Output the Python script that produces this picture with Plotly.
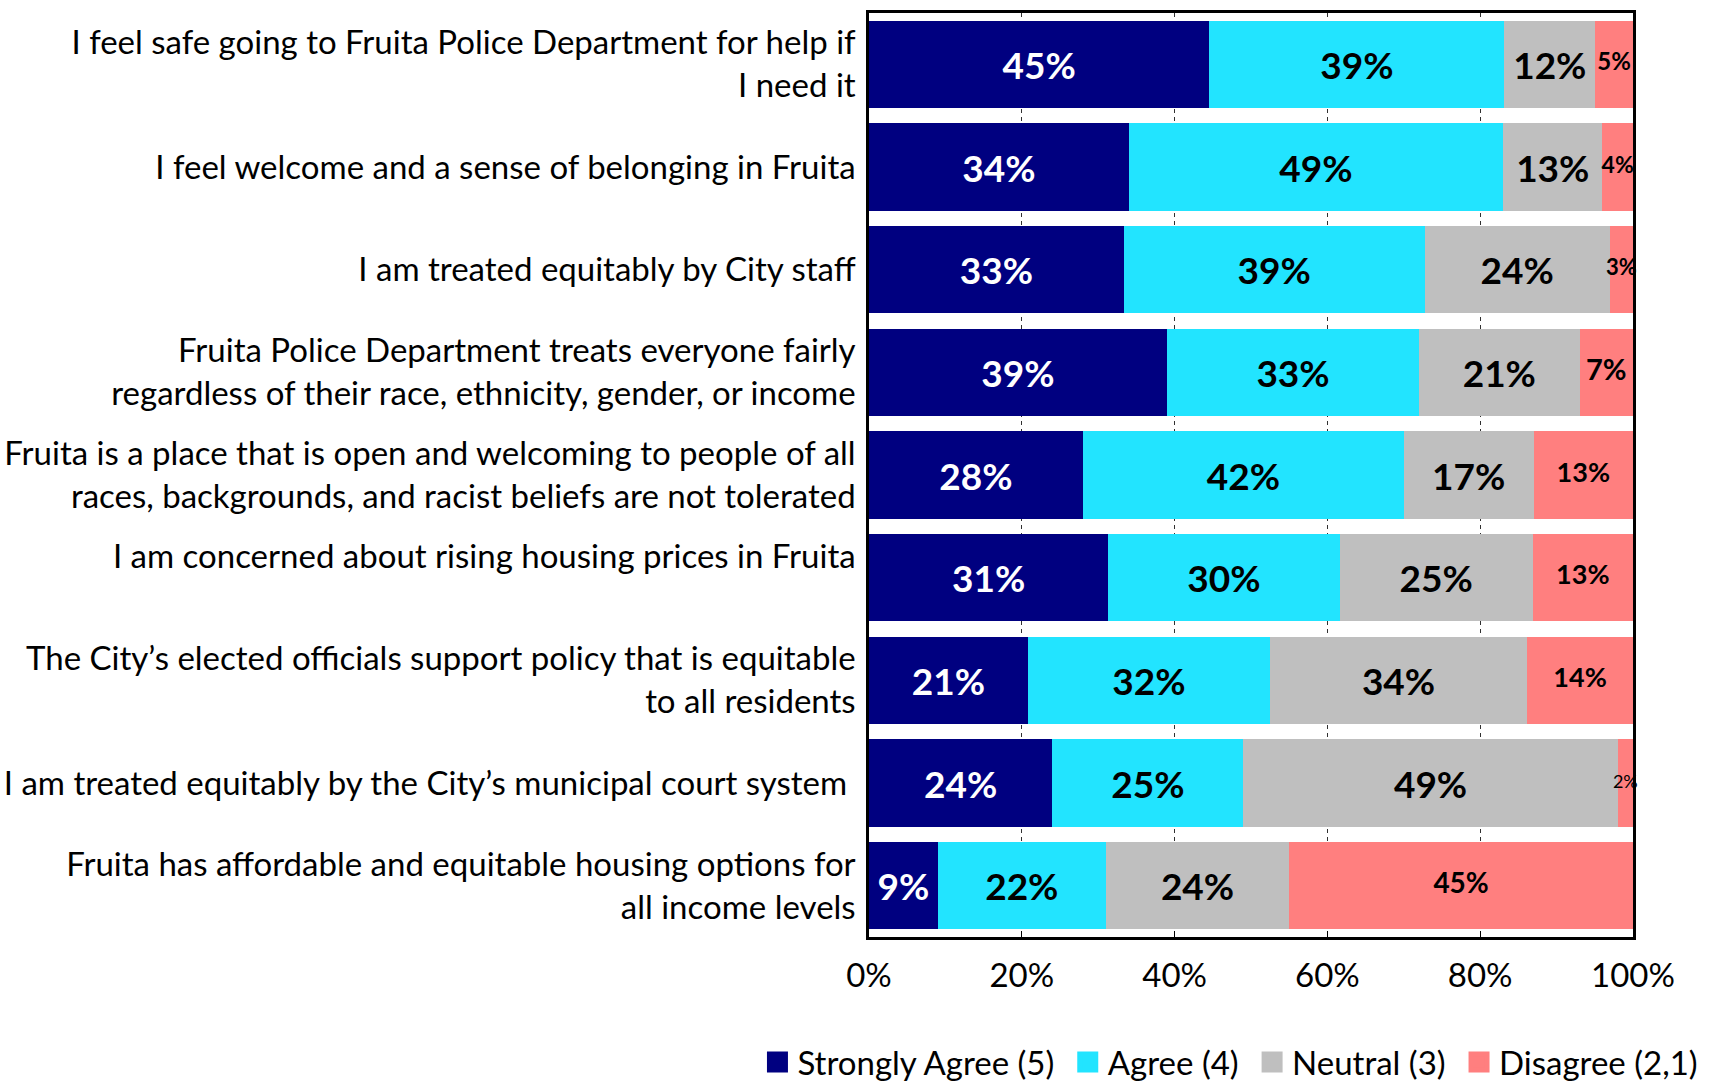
import plotly.graph_objects as go

categories = [
    "I feel safe going to Fruita Police Department for help if<br>I need it",
    "I feel welcome and a sense of belonging in Fruita",
    "I am treated equitably by City staff",
    "Fruita Police Department treats everyone fairly<br>regardless of their race, ethnicity, gender, or income",
    "Fruita is a place that is open and welcoming to people of all<br>races, backgrounds, and racist beliefs are not tolerated",
    "I am concerned about rising housing prices in Fruita<br>&nbsp;",
    "The City\u2019s elected officials support policy that is equitable<br>to all residents",
    "I am treated equitably by the City\u2019s municipal court system&nbsp;",
    "Fruita has affordable and equitable housing options for<br>all income levels",
]

series_names = ["Strongly Agree (5)", "Agree (4)", "Neutral (3)", "Disagree (2,1)"]
strongly_agree = [45, 34, 33, 39, 28, 31, 21, 24, 9]
agree = [39, 49, 39, 33, 42, 30, 32, 25, 22]
neutral = [12, 13, 24, 21, 17, 25, 34, 49, 24]
disagree = [5, 4, 3, 7, 13, 13, 14, 2, 45]

x_ticks = [0, 20, 40, 60, 80, 100]

colors = ["#000080", "#22E4FF", "#BFBFBF", "#FF7F7F"]
text_colors = ["white", "black", "black", "black"]
disagree_label_sizes = [24, 23, 22, 29, 27, 27, 27, 18, 28]
FONT = "Lato"

fig = go.Figure()
all_series = [strongly_agree, agree, neutral, disagree]
for i, (name, vals) in enumerate(zip(series_names, all_series)):
    is_last = i == len(all_series) - 1
    fig.add_trace(go.Bar(
        y=categories, x=vals, name=name, orientation="h",
        marker=dict(color=colors[i], line=dict(width=0)),
        text=None if is_last else [f"<b>{v}%</b>" for v in vals],
        textposition="none" if is_last else "inside",
        insidetextanchor="middle", textangle=0, constraintext="none",
        textfont=dict(family=FONT, size=37, color=text_colors[i]),
        showlegend=False, hoverinfo="skip",
    ))

# labels of the Disagree segments (centred on each normalised segment)
totals = [a + b + c + d for a, b, c, d in zip(*all_series)]
dis_mid = [
    (a + b + c + d / 2) / t * 100
    for a, b, c, d, t in zip(strongly_agree, agree, neutral, disagree, totals)
]
fig.add_trace(go.Scatter(
    x=dis_mid, y=categories, mode="text",
    text=[f"{v}%" if v <= 2 else f"<b>{v}%</b>" for v in disagree],
    textposition="middle center", cliponaxis=False,
    textfont=dict(family=FONT, size=disagree_label_sizes, color="black"),
    showlegend=False, hoverinfo="skip",
))

# legend entries
for i, name in enumerate(series_names):
    fig.add_trace(go.Scatter(
        x=[None], y=[None], mode="markers",
        name=name if i == len(series_names) - 1 else name + "&nbsp;",
        marker=dict(symbol="square", size=16, color=colors[i],
                    line=dict(color=colors[i], width=5)),
        showlegend=True,
    ))

fig.update_layout(
    width=1714, height=1083,
    margin=dict(l=869, r=81, t=13, b=146, autoexpand=False),
    barmode="stack", barnorm="percent", bargap=0.15,
    plot_bgcolor="white", paper_bgcolor="white",
    font=dict(family=FONT, size=33, color="black"),
    legend=dict(orientation="h", traceorder="normal",
                x=-0.146, xanchor="left", y=-0.1353, yanchor="middle",
                font=dict(family=FONT, size=33), itemwidth=30,
                bgcolor="rgba(0,0,0,0)"),
)
fig.update_xaxes(
    range=[0, 100], tickvals=x_ticks, ticktext=[f"{t}%" for t in x_ticks],
    showgrid=True, gridcolor="#303030", gridwidth=1, griddash="4px,4px",
    ticks="inside", ticklen=6, tickcolor="black", tickwidth=1,
    showline=True, linecolor="black", linewidth=2.5, mirror=True,
    zeroline=False, ticklabelstandoff=8,
    tickfont=dict(family=FONT, size=33),
)
fig.update_yaxes(
    autorange="reversed", showgrid=False, ticks="",
    showline=True, linecolor="black", linewidth=2.5, mirror=True,
    ticklabelstandoff=4, tickfont=dict(family=FONT, size=33),
)

fig.write_html("out.html")
